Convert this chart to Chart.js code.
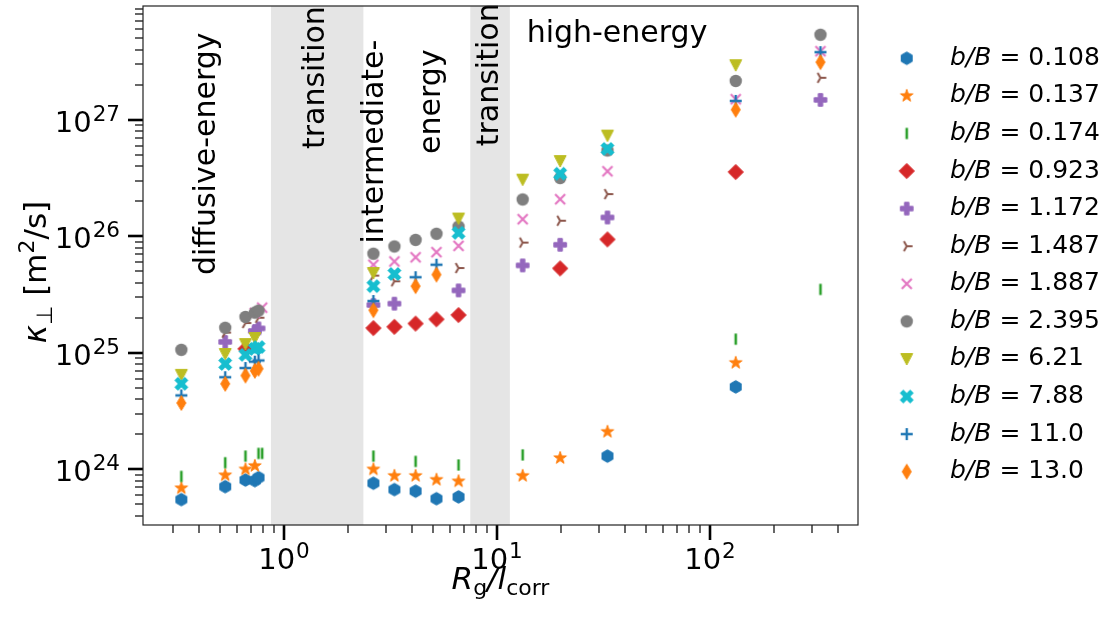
<!DOCTYPE html>
<html>
<head>
<meta charset="utf-8">
<script src="https://cdn.jsdelivr.net/npm/chart.js@4"></script>
<style>
html, body { margin: 0; padding: 0; background: #fff; }
#wrap { width: 1116px; height: 623px; position: relative; }
</style>
</head>
<body>
<div id="wrap"><canvas id="chart"></canvas></div>
<script>
// R_g / l_corr sampled in the runs (shared x grid, null = no run at that point)
const rgOverLcorr = [0.33, 0.53, 0.66, 0.73, 0.76, 0.79, 2.63, 3.3, 4.15, 5.2, 6.6, 13.2, 19.8, 33, 132, 330];

// turbulence levels b/B
const bOverB = ['0.108', '0.137', '0.174', '0.923', '1.172', '1.487', '1.887', '2.395', '6.21', '7.88', '11.0', '13.0'];

// perpendicular diffusion coefficient kappa_perp [m^2/s]
const kappa0108 = [5.5e23, 7.1e23, 8.1e23, 8.0e23, 8.5e23, null, 7.6e23, 6.7e23, 6.5e23, 5.6e23, 5.8e23, null, null, 1.3e24, 5.1e24, null];
const kappa0137 = [6.9e23, 8.9e23, 1.0e24, 1.07e24, null, null, 1.0e24, 8.8e23, 8.8e23, 8.15e23, 7.9e23, 8.8e23, 1.25e24, 2.1e24, 8.2e24, null];
const kappa0174 = [8.7e23, 1.14e24, 1.3e24, null, 1.37e24, 1.37e24, 1.3e24, null, 1.17e24, null, 1.09e24, 1.33e24, null, null, 1.31e25, 3.5e25];
const kappa0923 = [null, null, 1.08e25, null, null, null, 1.63e25, 1.67e25, 1.78e25, 1.94e25, 2.11e25, null, 5.3e25, 9.4e25, 3.56e26, null];
const kappa1172 = [null, 1.24e25, null, 1.54e25, 1.62e25, null, 2.57e25, 2.64e25, null, null, 3.43e25, 5.62e25, 8.45e25, 1.45e26, null, 1.48e27];
const kappa1487 = [null, 1.49e25, 1.8e25, null, 2.0e25, null, 4.6e25, 4.11e25, null, null, 5.34e25, 8.83e25, 1.36e26, 2.3e26, null, 2.29e27];
const kappa1887 = [null, null, null, 2.2e25, null, 2.44e25, 5.7e25, 6.08e25, 6.6e25, 7.31e25, 8.28e25, 1.4e26, 2.08e26, 3.61e26, 1.5e27, 3.87e27];
const kappa2395 = [1.06e25, 1.64e25, 2.03e25, 2.21e25, 2.3e25, null, 7.08e25, 8.17e25, 9.31e25, 1.05e26, 1.21e26, 2.07e26, 3.16e26, 5.45e26, 2.15e27, 5.36e27];
const kappa621 = [6.47e24, 9.77e24, 1.19e25, 1.34e25, null, null, 4.84e25, null, null, null, 1.42e26, 3.06e26, 4.42e26, 7.31e26, 2.94e27, null];
const kappa788 = [5.42e24, 8.03e24, 9.6e24, 1.08e25, 1.12e25, null, 3.73e25, 4.75e25, null, null, 1.07e26, null, 3.44e26, 5.62e26, null, null];
const kappa110 = [4.31e24, 6.17e24, 7.4e24, 8.4e24, 8.6e24, null, 2.78e25, null, 4.45e25, 5.7e25, null, null, null, null, 1.45e27, 3.8e27];
const kappa130 = [3.71e24, 5.42e24, 6.38e24, 7.0e24, 7.3e24, null, 2.32e25, null, 3.73e25, 4.69e25, null, null, null, null, 1.22e27, 3.12e27];

const kappaSeries = [kappa0108, kappa0137, kappa0174, kappa0923, kappa1172, kappa1487,
                     kappa1887, kappa2395, kappa621, kappa788, kappa110, kappa130];

// shaded transition ranges in R_g / l_corr
const transitionRanges = [[0.869, 2.36], [7.49, 11.5]];

const colors = ['#1f77b4', '#ff7f0e', '#2ca02c', '#d62728', '#9467bd', '#8c564b',
                '#e377c2', '#7f7f7f', '#bcbd22', '#17becf', '#1f77b4', '#ff7f0e'];
const shapes = ['hexagon', 'star', 'vline', 'diamond', 'plusFilled', 'triRight',
                'x', 'circle', 'triDown', 'xFilled', 'plus', 'thinDiamond'];

function polygon(g, pts) {
    g.beginPath();
    pts.forEach((p, i) => i ? g.lineTo(p[0], p[1]) : g.moveTo(p[0], p[1]));
    g.closePath();
    g.fill();
    g.stroke();
}

function crossPoly(half, arm, rot) {
    const base = [[-arm, -half], [arm, -half], [arm, -arm], [half, -arm], [half, arm], [arm, arm],
                  [arm, half], [-arm, half], [-arm, arm], [-half, arm], [-half, -arm], [-arm, -arm]];
    const c = Math.cos(rot), s = Math.sin(rot);
    return base.map(p => [p[0] * c - p[1] * s, p[0] * s + p[1] * c]);
}

// matplotlib-like marker glyphs, used as pointStyle images
function makeMarker(shape, color) {
    const c = document.createElement('canvas');
    c.width = 22;
    c.height = 22;
    const g = c.getContext('2d');
    g.translate(11, 11);
    g.fillStyle = color;
    g.strokeStyle = color;
    g.lineWidth = 1;
    let pts = [];
    switch (shape) {
        case 'hexagon':
            for (let i = 0; i < 6; i++) {
                const a = -Math.PI / 2 + i * Math.PI / 3;
                pts.push([6.3 * Math.cos(a), 6.3 * Math.sin(a)]);
            }
            polygon(g, pts);
            break;
        case 'star':
            for (let i = 0; i < 10; i++) {
                const a = -Math.PI / 2 + i * Math.PI / 5;
                const r = i % 2 ? 2.6 : 6.6;
                pts.push([r * Math.cos(a), r * Math.sin(a)]);
            }
            polygon(g, pts);
            break;
        case 'vline':
            g.fillRect(-1.3, -5.6, 2.6, 11.2);
            break;
        case 'diamond':
            polygon(g, [[0, -7.6], [7.6, 0], [0, 7.6], [-7.6, 0]]);
            break;
        case 'thinDiamond':
            polygon(g, [[0, -7.4], [4.5, 0], [0, 7.4], [-4.5, 0]]);
            break;
        case 'plusFilled':
            polygon(g, crossPoly(6.3, 2.2, 0));
            break;
        case 'xFilled':
            polygon(g, crossPoly(7, 2.2, Math.PI / 4));
            break;
        case 'circle':
            g.beginPath();
            g.arc(0, 0, 6.2, 0, Math.PI * 2);
            g.fill();
            break;
        case 'triDown':
            polygon(g, [[-6, -5.4], [6, -5.4], [0, 6]]);
            break;
        case 'triRight':
            g.lineWidth = 2;
            g.beginPath();
            g.moveTo(0, 0); g.lineTo(5.8, 0);
            g.moveTo(0, 0); g.lineTo(-2.9, -5);
            g.moveTo(0, 0); g.lineTo(-2.9, 5);
            g.stroke();
            break;
        case 'x':
            g.lineWidth = 2.2;
            g.beginPath();
            g.moveTo(-5, -5); g.lineTo(5, 5);
            g.moveTo(-5, 5); g.lineTo(5, -5);
            g.stroke();
            break;
        case 'plus':
            g.lineWidth = 2.4;
            g.beginPath();
            g.moveTo(-6, 0); g.lineTo(6, 0);
            g.moveTo(0, -6); g.lineTo(0, 6);
            g.stroke();
            break;
    }
    return c;
}

const markers = shapes.map((s, i) => makeMarker(s, colors[i]));

const datasets = kappaSeries.map((ys, i) => ({
    label: 'b/B = ' + bOverB[i],
    data: ys.map((y, j) => (y === null ? null : { x: rgOverLcorr[j], y: y })).filter(p => p),
    pointStyle: markers[i],
    pointRadius: 5,
    pointHoverRadius: 5,
    order: -i
}));

function logTicks(lo, hi) {
    const out = [];
    for (let e = Math.floor(Math.log10(lo)); e <= Math.ceil(Math.log10(hi)); e++) {
        for (let m = 1; m < 10; m++) {
            const v = m * Math.pow(10, e);
            if (v >= lo && v <= hi) out.push(v);
        }
    }
    return out;
}

function isDecade(v) {
    const e = Math.log10(v);
    return Math.abs(e - Math.round(e)) < 1e-9;
}

const xMin = 0.218, xMax = 495;
const yMin = 3.33e23, yMax = 9.46e27;
const xTickValues = logTicks(xMin, xMax);
const yTickValues = logTicks(yMin, yMax);

const FONT = "'DejaVu Sans'";

// region labels, centred on a point given in data coordinates
const regionLabels = [
    { text: 'diffusive-energy', x: 0.435, y: 5.1e26, rot: true },
    { text: 'transition', x: 1.413, y: 2.3e27, rot: true },
    { text: 'intermediate-', x: 2.675, y: 6.5e26, rot: true },
    { text: 'energy', x: 4.95, y: 1.43e27, rot: true },
    { text: 'transition', x: 9.27, y: 2.43e27, rot: true },
    { text: 'high-energy', x: 36.6, y: 5.4e27, rot: false }
];

// "10" with a raised exponent, anchored by its right edge or centre
function drawPower(ctx, v, px, baseY, align) {
    const exp = String(Math.round(Math.log10(v)));
    ctx.font = '29px ' + FONT;
    const wb = ctx.measureText('10').width;
    ctx.font = '21.5px ' + FONT;
    const we = ctx.measureText(exp).width;
    const w = wb + we + 1;
    const x0 = align === 'right' ? px - w : px - w / 2;
    ctx.font = '29px ' + FONT;
    ctx.fillText('10', x0, baseY);
    ctx.font = '21.5px ' + FONT;
    ctx.fillText(exp, x0 + wb + 1, baseY - 11);
}

const decorations = {
    id: 'decorations',
    beforeDatasetsDraw(chart) {
        const { ctx, chartArea: a, scales: { x, y } } = chart;
        ctx.save();
        ctx.fillStyle = 'rgba(0,0,0,0.1)';
        transitionRanges.forEach(([lo, hi]) => {
            const x0 = x.getPixelForValue(lo), x1 = x.getPixelForValue(hi);
            ctx.fillRect(x0, a.top, x1 - x0, a.bottom - a.top);
        });
        ctx.fillStyle = '#000';
        ctx.font = '30px ' + FONT;
        ctx.textBaseline = 'middle';
        ctx.textAlign = 'center';
        regionLabels.forEach(l => {
            const px = x.getPixelForValue(l.x), py = y.getPixelForValue(l.y);
            ctx.save();
            ctx.translate(px, py);
            if (l.rot) ctx.rotate(-Math.PI / 2);
            ctx.fillText(l.text, 0, 0);
            ctx.restore();
        });
        ctx.restore();
    },
    afterDraw(chart) {
        const { ctx, chartArea: a, scales: { x, y } } = chart;
        ctx.save();
        // tick marks, outward, and decade labels
        ctx.strokeStyle = '#000';
        ctx.fillStyle = '#000';
        ctx.textAlign = 'left';
        ctx.textBaseline = 'alphabetic';
        xTickValues.forEach(v => {
            const px = Math.round(x.getPixelForValue(v));
            const major = isDecade(v);
            ctx.lineWidth = major ? 2.6 : 1.2;
            ctx.beginPath();
            ctx.moveTo(px, a.bottom);
            ctx.lineTo(px, a.bottom + (major ? 15 : 8));
            ctx.stroke();
            if (major) drawPower(ctx, v, px, 569, 'center');
        });
        yTickValues.forEach(v => {
            const py = Math.round(y.getPixelForValue(v));
            const major = isDecade(v);
            ctx.lineWidth = major ? 2.6 : 1.2;
            ctx.beginPath();
            ctx.moveTo(a.left, py);
            ctx.lineTo(a.left - (major ? 15 : 8), py);
            ctx.stroke();
            if (major) drawPower(ctx, v, a.left - 23, py + 12, 'right');
        });
        // frame
        ctx.lineWidth = 1.2;
        ctx.strokeStyle = '#222';
        ctx.strokeRect(a.left, a.top, a.right - a.left, a.bottom - a.top);

        // x axis title: R_g / l_corr
        const big = '31px ' + FONT, bigIt = 'italic 31px ' + FONT, sub = '22px ' + FONT;
        const xParts = [[bigIt, 'R', 0], [sub, 'g', 6], [bigIt, '/', 0], [bigIt, 'l', 0], [sub, 'corr', 6]];
        let w = 0;
        xParts.forEach(p => { ctx.font = p[0]; w += ctx.measureText(p[1]).width; });
        let cx = (a.left + a.right) / 2 - w / 2;
        xParts.forEach(p => {
            ctx.font = p[0];
            ctx.fillText(p[1], cx, 589 + p[2]);
            cx += ctx.measureText(p[1]).width;
        });

        // y axis title: kappa_perp [m^2/s]
        const yParts = [[bigIt, 'κ', 0], [sub, '⊥', 6], [big, ' [m', 0], [sub, '2', -12], [big, '/s]', 0]];
        w = 0;
        yParts.forEach(p => { ctx.font = p[0]; w += ctx.measureText(p[1]).width; });
        ctx.translate(46, 272);
        ctx.rotate(-Math.PI / 2);
        cx = -w / 2;
        yParts.forEach(p => {
            ctx.font = p[0];
            ctx.fillText(p[1], cx, p[2]);
            cx += ctx.measureText(p[1]).width;
        });
        ctx.restore();

        // legend
        ctx.save();
        ctx.fillStyle = '#000';
        ctx.textBaseline = 'middle';
        ctx.textAlign = 'left';
        chart.data.datasets.forEach((ds, i) => {
            const ry = 58.3 + i * 37.58;
            const m = markers[i];
            ctx.drawImage(m, 906.7 - m.width / 2, ry - m.height / 2);
            ctx.font = 'italic 25px ' + FONT;
            ctx.fillText('b/B', 950, ry);
            const bw = ctx.measureText('b/B').width;
            ctx.font = '25px ' + FONT;
            ctx.fillText(' = ' + bOverB[i], 950 + bw, ry);
        });
        ctx.restore();
    }
};

new Chart(document.getElementById('chart'), {
    type: 'scatter',
    data: { datasets: datasets },
    plugins: [decorations],
    options: {
        responsive: true,
        maintainAspectRatio: false,
        animation: false,
        layout: { padding: { left: 0, right: 258, top: 3, bottom: 0 } },
        plugins: {
            legend: { display: false },
            tooltip: { enabled: false }
        },
        scales: {
            x: {
                type: 'logarithmic',
                min: xMin,
                max: xMax,
                afterFit: s => { s.height = 98; },
                grid: { display: false, drawTicks: false },
                border: { display: false },
                ticks: { display: false }
            },
            y: {
                type: 'logarithmic',
                min: yMin,
                max: yMax,
                afterFit: s => { s.width = 143; },
                grid: { display: false, drawTicks: false },
                border: { display: false },
                ticks: { display: false }
            }
        }
    }
});
</script>
</body>
</html>
